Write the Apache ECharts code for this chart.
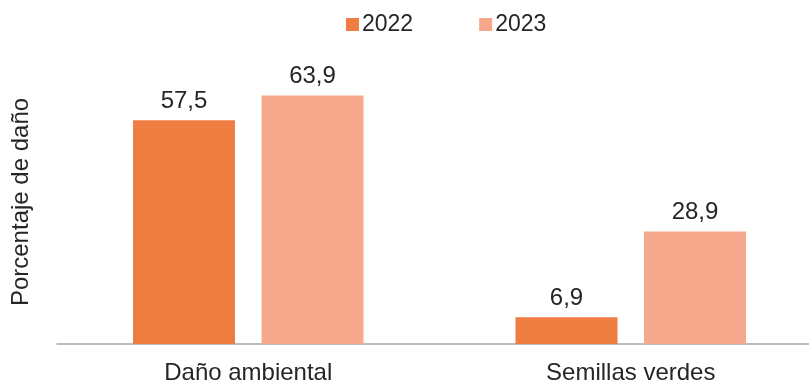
<!DOCTYPE html>
<html>
<head>
<meta charset="utf-8">
<script src="https://cdn.jsdelivr.net/npm/echarts@6/dist/echarts.min.js"></script>
<style>
  html, body { margin: 0; padding: 0; background: #fff; }
  #chart { width: 809px; height: 383px; }
</style>
</head>
<body>
<div id="chart"></div>
<script>
// datos
const categorias = ['Daño ambiental', 'Semillas verdes'];
const serie2022 = [57.5, 6.9];
const serie2023 = [63.9, 28.9];
const nombres = ['2022', '2023'];

const fuente = 'Liberation Sans, Arial, sans-serif';
const texto = '#262626';

const chart = echarts.init(document.getElementById('chart'));

const etiqueta = {
  show: true,
  position: 'top',
  distance: 7,
  color: texto,
  fontFamily: fuente,
  fontSize: 24,
  formatter: (p) => String(p.value).replace('.', ','),
};

chart.setOption({
  animation: false,
  legend: {
    left: 341,
    top: 8,
    itemWidth: 13,
    itemHeight: 13,
    itemGap: 66,
    icon: 'rect',
    textStyle: { color: texto, fontFamily: fuente, fontSize: 23, padding: [0, 0, 0, -2] },
    data: nombres,
  },
  grid: {
    left: 57,
    right: -13,
    top: 60,
    bottom: 39,
    outerBoundsMode: 'none',
  },
  xAxis: {
    type: 'category',
    data: categorias,
    axisLine: { lineStyle: { color: '#a6a6a6', width: 1.5 } },
    axisTick: { show: false },
    axisLabel: { color: texto, fontFamily: fuente, fontSize: 24, margin: 17 },
  },
  yAxis: {
    type: 'value',
    min: 0,
    max: 73,
    name: 'Porcentaje de daño',
    nameLocation: 'middle',
    nameGap: 24,
    nameTextStyle: { color: texto, fontFamily: fuente, fontSize: 24 },
    axisLine: { show: false },
    axisTick: { show: false },
    axisLabel: { show: false },
    splitLine: { show: false },
  },
  series: [
    {
      name: nombres[0],
      type: 'bar',
      data: serie2022,
      barWidth: 102,
      barGap: '26%',
      itemStyle: { color: '#ef7d41' },
      label: etiqueta,
    },
    {
      name: nombres[1],
      type: 'bar',
      data: serie2023,
      barWidth: 102,
      itemStyle: { color: '#f5a88b' },
      label: etiqueta,
    },
  ],
});
</script>
</body>
</html>
